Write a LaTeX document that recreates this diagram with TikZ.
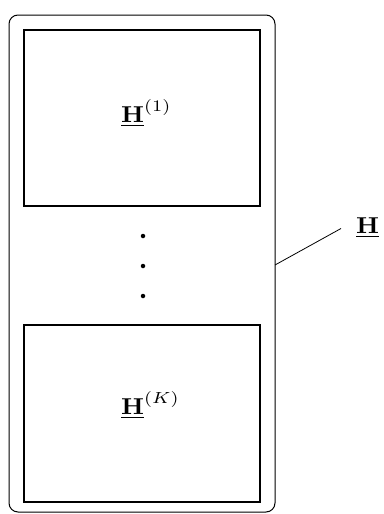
\documentclass[tikz,border=0pt]{standalone}
\usepackage{graphicx}
\begin{document}
\begin{tikzpicture}[x=1pt,y=-1pt,
  box/.style={draw,line width=1.1pt},
  outer/.style={draw,line width=1pt,rounded corners=9pt},
  lbl/.style={inner sep=0pt,anchor=base west},
  dotnode/.style={circle,fill,inner sep=0pt,minimum size=4.5pt}]
\newcommand{\bigmath}[1]{\scalebox{2.55}[2.3]{#1}}
\useasboundingbox (0,0) rectangle (383,514);
\draw[outer] (9,15) rectangle (275,512);
\node[box,minimum width=236pt,minimum height=176pt,inner sep=0pt] (b1) at (142,118) {};
\node[box,minimum width=236pt,minimum height=177pt,inner sep=0pt] (b2) at (142,413.5) {};
\node[lbl] (t1) at (121,122) {\bigmath{$\underline{\mathbf{H}}^{(1)}$}};
\node[lbl] (t2) at (121,414) {\bigmath{$\underline{\mathbf{H}}^{(K)}$}};
\node[dotnode] (d1) at (143,236) {};
\node[dotnode] (d2) at (143,266) {};
\node[dotnode] (d3) at (143,296) {};
\coordinate (e) at (275,265);
\coordinate (f) at (341,228.5);
\draw[line width=0.8pt] (e) -- (f);
\node[lbl] (h) at (356,233) {\bigmath{$\underline{\mathbf{H}}$}};
\end{tikzpicture}
\end{document}
